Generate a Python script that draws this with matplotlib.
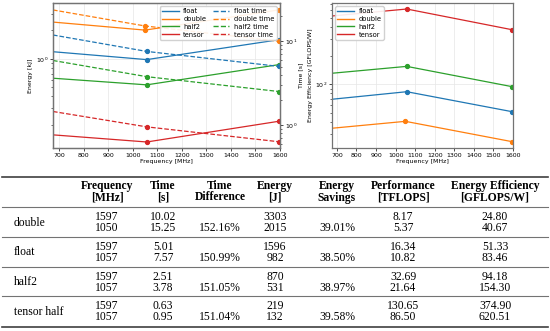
import matplotlib.pyplot as plt
from matplotlib.lines import Line2D

# frequencies [MHz]
freq_double = [675, 1050, 1597]
freq_other = [675, 1057, 1597]

# energy [kJ]
energy_float = [1.19, 0.982, 1.596]
energy_double = [2.45, 2.015, 3.303]
energy_half2 = [0.624, 0.531, 0.870]
energy_tensor = [0.157, 0.132, 0.219]

# time [s]
time_float = [11.9, 7.57, 5.01]
time_double = [23.7, 15.25, 10.02]
time_half2 = [5.9, 3.78, 2.51]
time_tensor = [1.45, 0.95, 0.63]

# energy efficiency [GFLOPS/W]
eff_float = [69.5, 83.46, 51.33]
eff_double = [34.4, 40.67, 24.80]
eff_half2 = [130.6, 154.30, 94.18]
eff_tensor = [524.0, 620.51, 374.90]

# table
col_headers = [("Frequency", "[MHz]"), ("Time", "[s]"), ("Time", "Difference"),
               ("Energy", "[J]"), ("Energy", "Savings"), ("Performance", "[TFLOPS]"),
               ("Energy Efficiency", "[GFLOPS/W]")]
row_labels = ["double", "float", "half2", "tensor half"]
tab_freq = [["1597", "1050"], ["1597", "1057"], ["1597", "1057"], ["1597", "1057"]]
tab_time = [["10.02", "15.25"], ["5.01", "7.57"], ["2.51", "3.78"], ["0.63", "0.95"]]
tab_tdiff = [["", "152.16%"], ["", "150.99%"], ["", "151.05%"], ["", "151.04%"]]
tab_energy = [["3303", "2015"], ["1596", "982"], ["870", "531"], ["219", "132"]]
tab_esave = [["", "39.01%"], ["", "38.50%"], ["", "38.97%"], ["", "39.58%"]]
tab_perf = [["8.17", "5.37"], ["16.34", "10.82"], ["32.69", "21.64"], ["130.65", "86.50"]]
tab_eff = [["24.80", "40.67"], ["51.33", "83.46"], ["94.18", "154.30"], ["374.90", "620.51"]]

W, H = 550, 331
fs = 4.5
lfs = 4.9
colors = ["tab:blue", "tab:orange", "tab:green", "tab:red"]
names = ["float", "double", "half2", "tensor"]


def style(ax):
    ax.tick_params(labelsize=fs, length=2, width=0.5, pad=1.5)
    ax.tick_params(which="minor", length=1.2, width=0.4)
    for s in ax.spines.values():
        s.set_color("0.45")
        s.set_linewidth(0.9)


def leg_handles(suffix="", ls="-"):
    return [Line2D([], [], color=c, lw=1.0, ls=ls, label=n + suffix)
            for c, n in zip(colors, names)]


fig = plt.figure(figsize=(W / 100, H / 100), dpi=100)

# left chart: energy and time
ax1 = fig.add_axes([53 / W, 1 - 148 / H, 227 / W, 145 / H])
ax2 = ax1.twinx()
energies = [energy_float, energy_double, energy_half2, energy_tensor]
times = [time_float, time_double, time_half2, time_tensor]
for i, n in enumerate(names):
    f = freq_double if n == "double" else freq_other
    ax1.plot(f, energies[i], color=colors[i], lw=0.9, marker="o", ms=2.8,
             markevery=[1, 2])
    ax2.plot(f, times[i], color=colors[i], lw=0.9, ls="--", marker="o", ms=2.8,
             markevery=[1, 2])
ax1.set_yscale("log")
ax2.set_yscale("log")
ax1.set_ylim(0.114, 3.9)
ax2.set_ylim(0.531, 28.7)
ax1.set_xlim(675, 1600)
ax1.set_xticks(range(700, 1601, 100))
ax1.grid(True, axis="x", color="0.9", lw=0.5)
ax1.grid(True, axis="y", which="major", color="0.9", lw=0.5)
ax1.set_xlabel("Frequency [MHz]", fontsize=fs, labelpad=1)
ax1.set_ylabel("Energy [kJ]", fontsize=fs, labelpad=2)
ax2.set_ylabel("Time [s]", fontsize=fs, labelpad=1)
style(ax1)
style(ax2)
ax2.legend(handles=leg_handles() + leg_handles(" time", "--"), ncol=2,
           loc="upper right", fontsize=lfs, handlelength=2.4, borderpad=0.3,
           labelspacing=0.25, columnspacing=1.0, handletextpad=0.7, framealpha=0.9)

# right chart: energy efficiency
ax3 = fig.add_axes([332 / W, 1 - 148 / H, 181 / W, 145 / H])
effs = [eff_float, eff_double, eff_half2, eff_tensor]
for i, n in enumerate(names):
    f = freq_double if n == "double" else freq_other
    ax3.plot(f, effs[i], color=colors[i], lw=0.9, marker="o", ms=2.8,
             markevery=[1, 2])
ax3.set_yscale("log")
ax3.set_ylim(21.3, 718)
ax3.set_xlim(675, 1600)
ax3.set_xticks(range(700, 1601, 100))
ax3.grid(True, axis="x", color="0.9", lw=0.5)
ax3.grid(True, axis="y", which="major", color="0.9", lw=0.5)
ax3.set_xlabel("Frequency [MHz]", fontsize=fs, labelpad=1)
ax3.set_ylabel("Energy Efficiency [GFLOPS/W]", fontsize=fs, labelpad=1)
style(ax3)
ax3.legend(handles=leg_handles(), loc="upper left", fontsize=lfs, handlelength=2.4,
           borderpad=0.3, labelspacing=0.25, handletextpad=0.7, framealpha=0.9)

# table below
def fx(x):
    return x / W


def fy(y):
    return 1 - y / H


serif = "Liberation Serif"
tfs = 8.4
col_x = [107, 163, 220, 275, 337, 403, 495]
columns = [tab_freq, tab_time, tab_tdiff, tab_energy, tab_esave, tab_perf, tab_eff]

for (l1, l2), x in zip(col_headers, col_x):
    fig.text(fx(x), fy(186), l1, ha="center", va="center", fontsize=tfs,
             family=serif, weight="bold")
    fig.text(fx(x), fy(197.5), l2, ha="center", va="center", fontsize=tfs,
             family=serif, weight="bold")

row_top = 207
row_h = 29.8
for r, lab in enumerate(row_labels):
    top = row_top + r * row_h
    fig.text(fx(14), fy(top + 15.5), lab, ha="left", va="center", fontsize=tfs,
             family=serif)
    for col, x in zip(columns, col_x):
        for k in range(2):
            fig.text(fx(x), fy(top + 10 + k * 11), col[r][k], ha="center",
                     va="center", fontsize=tfs, family=serif)

x0, x1 = fx(2), fx(548)
fig.add_artist(Line2D([x0, x1], [fy(177), fy(177)], color="0.25", lw=1.2))
for y in [row_top + i * row_h for i in range(4)]:
    fig.add_artist(Line2D([x0, x1], [fy(y), fy(y)], color="0.45", lw=0.8))
fig.add_artist(Line2D([x0, x1], [fy(327), fy(327)], color="0.25", lw=1.2))

fig.savefig("out.png", dpi=100)
